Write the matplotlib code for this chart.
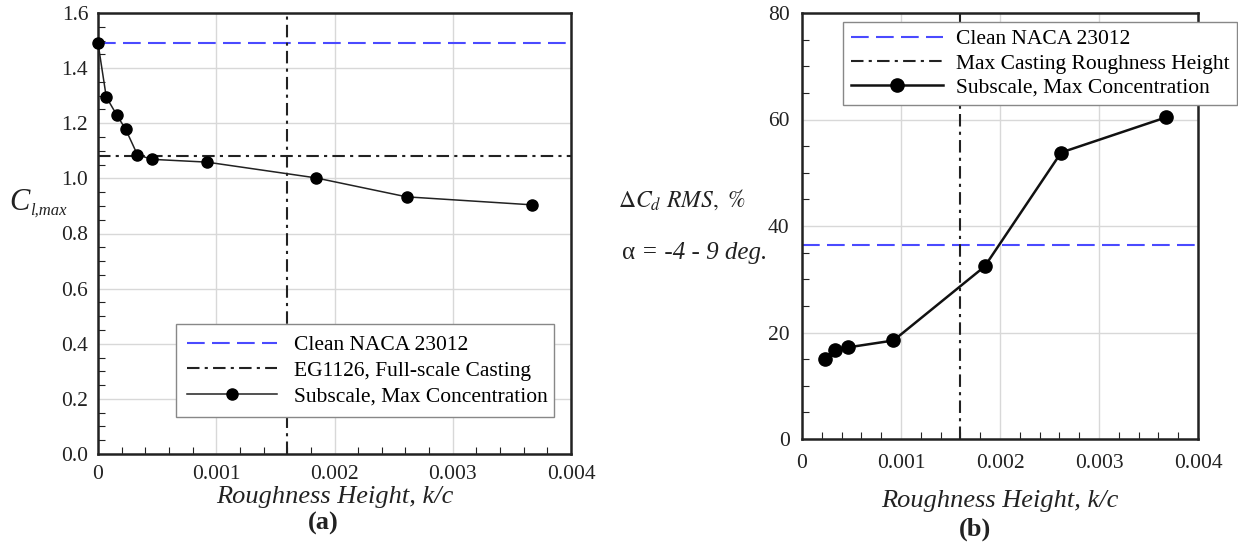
import numpy as np
import matplotlib.pyplot as plt
from matplotlib.ticker import MultipleLocator, FixedFormatter, FixedLocator

plt.rcParams['font.family'] = ['Liberation Serif', 'DejaVu Serif']
plt.rcParams['mathtext.fontset'] = 'stix'

# roughness height k/c for each subscale case
k_c_a = [0.0, 0.00007, 0.00016, 0.000234, 0.000334, 0.00046, 0.00092, 0.00184, 0.00261, 0.00367]
cl_max = [1.491, 1.295, 1.229, 1.178, 1.085, 1.069, 1.059, 1.002, 0.933, 0.904]

k_c_b = [0.000231, 0.000335, 0.000462, 0.000924, 0.001845, 0.002618, 0.003677]
dcd_rms = [15.0, 16.7, 17.2, 18.5, 32.4, 53.8, 60.4]

clean_clmax = 1.491
casting_clmax = 1.082
clean_dcd = 36.4
max_casting_k = 0.0016

x_ticks = [0, 0.001, 0.002, 0.003, 0.004]
x_ticklabels = ['0', '0.001', '0.002', '0.003', '0.004']

blue = '#4a4aff'
dark = '#222222'
dash = (0, (8.5, 3.5))
dashdot = (0, (6, 2.5, 1.5, 2.5))
fs_tick = 15.5
fs_label = 19

W, H = 1238, 544
fig = plt.figure(figsize=(W / 100, H / 100), dpi=100)
ax1 = fig.add_axes([98 / W, 1 - 454 / H, 473 / W, 441 / H])
ax2 = fig.add_axes([802 / W, 1 - 439 / H, 396 / W, 426 / H])


def style_axes(ax, xpad, ypad, labelpad):
    ax.set_xlim(0, 0.004)
    ax.xaxis.set_major_locator(FixedLocator(x_ticks))
    ax.xaxis.set_major_formatter(FixedFormatter(x_ticklabels))
    ax.xaxis.set_minor_locator(MultipleLocator(0.0002))
    ax.grid(True, which='major', color='#d8d8d8', lw=1.0)
    ax.set_axisbelow(True)
    ax.tick_params(which='both', direction='in', labelsize=fs_tick,
                   colors=dark)
    ax.tick_params(axis='x', pad=xpad)
    ax.tick_params(axis='y', pad=ypad)
    ax.tick_params(which='major', length=0)
    ax.tick_params(which='minor', length=5, width=0.8)
    ax.tick_params(top=False, right=False, which='both')
    for s in ax.spines.values():
        s.set_linewidth(1.8)
        s.set_color(dark)
    ax.set_xlabel('Roughness Height, k/c', fontsize=fs_label, style='italic',
                  labelpad=labelpad, color=dark)


# (a) maximum lift
style_axes(ax1, 8, 7, 1)
ax1.set_ylim(0, 1.6)
ax1.yaxis.set_major_locator(MultipleLocator(0.2))
ax1.yaxis.set_minor_locator(MultipleLocator(0.05))
ax1.yaxis.set_major_formatter(plt.FuncFormatter(lambda v, p: f'{v:.1f}'))
ax1.axhline(clean_clmax, color=blue, ls=dash, lw=1.5,
            label='Clean NACA 23012')
ax1.axhline(casting_clmax, color=dark, ls=dashdot, lw=1.5,
            label='EG1126, Full-scale Casting')
ax1.axvline(max_casting_k, color=dark, ls=dashdot, lw=1.5)
ax1.plot(k_c_a, cl_max, color=dark, lw=1.1, marker='o', ms=8,
         mfc='black', mec='black', label='Subscale, Max Concentration',
         clip_on=False, zorder=5)

# y label: italic C with a small l,max subscript
t_c = fig.text(9 / W, 1 - 202 / H, 'C', fontsize=22, ha='left',
               va='center', style='italic', color=dark)
ax1.annotate('l,max', xy=(1, 0.5), xycoords=t_c, xytext=(0.5, -6),
             textcoords='offset points', ha='left', va='center',
             fontsize=12, style='italic', color=dark, annotation_clip=False)

leg1 = ax1.legend(loc='lower left', bbox_to_anchor=(0.165, 0.084, 0.8, 0.2),
                  mode='expand', fontsize=15.5, handlelength=4.2,
                  fancybox=False, edgecolor='#888888', framealpha=1,
                  borderpad=0.5, labelspacing=0.25, handletextpad=0.8,
                  borderaxespad=0)
leg1.get_frame().set_linewidth(1.0)
fig.text(323 / W, 1 - 523 / H, '(a)', ha='center', va='center', fontsize=19,
         fontweight='bold', color=dark)

# (b) drag increment
style_axes(ax2, 11, 9, 12)
ax2.set_ylim(0, 80)
ax2.yaxis.set_major_locator(MultipleLocator(20))
ax2.yaxis.set_minor_locator(MultipleLocator(5))
ax2.axhline(clean_dcd, color=blue, ls=dash, lw=1.5,
            label='Clean NACA 23012')
ax2.axvline(max_casting_k, color=dark, ls=dashdot, lw=1.5,
            label='Max Casting Roughness Height')
ax2.plot(k_c_b, dcd_rms, color='#111111', lw=1.8, marker='o', ms=9.5,
         mfc='black', mec='black', label='Subscale, Max Concentration',
         zorder=5)
leg2 = ax2.legend(loc='lower left', bbox_to_anchor=(0.104, 0.783, 0.994, 0.205),
                  mode='expand', fontsize=15.5, handlelength=4.3,
                  fancybox=False, edgecolor='#888888', framealpha=1,
                  borderpad=0.35, labelspacing=0.2, handletextpad=0.6,
                  borderaxespad=0)
leg2.get_frame().set_linewidth(1.0)

fig.text(745 / W, 1 - 200 / H, r'$\mathit{\Delta C_d}$ $RMS,$ $\%$',
         fontsize=17, ha='right', va='center', color=dark)
t_deg = fig.text(767 / W, 1 - 253 / H, ' = -4 - 9 deg.', fontsize=18,
                 ha='right', va='center', style='italic', color=dark)
ax2.annotate('α', xy=(0, 0.5), xycoords=t_deg, ha='right', va='center',
             fontsize=18, color=dark, annotation_clip=False)
fig.text(975 / W, 1 - 529 / H, '(b)', ha='center', va='center', fontsize=19,
         fontweight='bold', color=dark)

fig.savefig('out.png', dpi=100)
